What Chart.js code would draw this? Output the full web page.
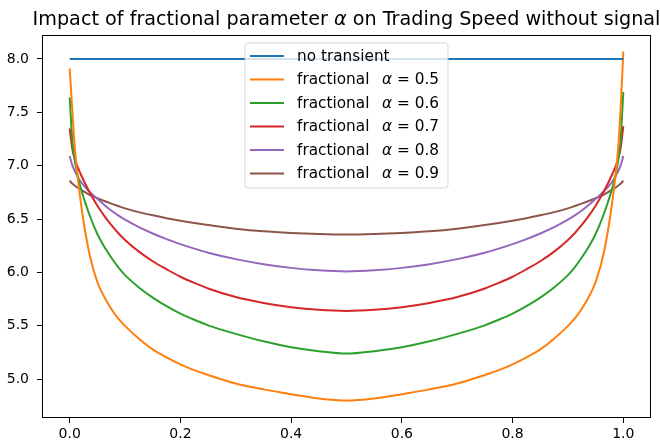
<!DOCTYPE html>
<html>
<head>
<meta charset="utf-8">
<script src="https://cdn.jsdelivr.net/npm/chart.js@4/dist/chart.umd.min.js"></script>
<style>
html,body{margin:0;padding:0;background:#fff;}
canvas{display:block;}
</style>
</head>
<body>
<canvas id="c" width="660" height="447"></canvas>
<script>
// ---- data ----
const titleText = "Impact of fractional parameter \u03b1 on Trading Speed without signal";
const tValues = [0, 0.005, 0.01, 0.02, 0.035, 0.05, 0.0625, 0.075, 0.0875, 0.1, 0.125, 0.15, 0.175, 0.2, 0.225, 0.25,
                 0.3, 0.35, 0.4, 0.45, 0.5, 0.55, 0.6, 0.65, 0.7, 0.75, 0.775, 0.8, 0.825, 0.85, 0.875, 0.9,
                 0.9125, 0.925, 0.9375, 0.95, 0.965, 0.98, 0.99, 0.995, 1.0];
const noTransientT = [0, 1];
const noTransientV = [8.0, 8.0];
const alpha05 = [7.91, 7.50, 7.12, 6.66, 6.19, 5.91, 5.77, 5.66, 5.57, 5.50, 5.38, 5.28, 5.205, 5.14, 5.085, 5.04,
                 4.96, 4.905, 4.86, 4.82, 4.80,
                 4.82, 4.86, 4.905, 4.96, 5.04, 5.085, 5.14, 5.205, 5.28, 5.38, 5.50, 5.57, 5.66, 5.77, 5.91,
                 6.19, 6.66, 7.12, 7.52, 8.07];
const alpha06 = [7.64, 7.22, 7.02, 6.79, 6.55, 6.36, 6.24, 6.14, 6.05, 5.975, 5.86, 5.765, 5.685, 5.615, 5.557, 5.505,
                 5.425, 5.355, 5.30, 5.263, 5.24,
                 5.263, 5.30, 5.355, 5.425, 5.505, 5.557, 5.615, 5.685, 5.765, 5.86, 5.975, 6.05, 6.14, 6.24, 6.36,
                 6.55, 6.79, 7.02, 7.24, 7.69];
const alpha07 = [7.35, 7.15, 7.05, 6.92, 6.76, 6.625, 6.53, 6.445, 6.37, 6.305, 6.195, 6.105, 6.03, 5.96, 5.902, 5.85,
                 5.77, 5.715, 5.675, 5.65, 5.64,
                 5.65, 5.675, 5.715, 5.77, 5.85, 5.902, 5.96, 6.03, 6.105, 6.195, 6.305, 6.37, 6.445, 6.53, 6.625,
                 6.76, 6.92, 7.05, 7.16, 7.37];
const alpha08 = [7.09, 7.00, 6.94, 6.85, 6.76, 6.69, 6.632, 6.58, 6.535, 6.495, 6.425, 6.365, 6.312, 6.265, 6.223, 6.185,
                 6.125, 6.078, 6.043, 6.02, 6.01,
                 6.02, 6.043, 6.078, 6.125, 6.185, 6.223, 6.265, 6.312, 6.365, 6.425, 6.495, 6.535, 6.58, 6.632, 6.69,
                 6.76, 6.85, 6.94, 7.00, 7.09];
const alpha09 = [6.86, 6.83, 6.81, 6.775, 6.73, 6.695, 6.669, 6.645, 6.622, 6.60, 6.565, 6.535, 6.508, 6.485, 6.464, 6.445,
                 6.41, 6.385, 6.37, 6.36, 6.355,
                 6.36, 6.37, 6.385, 6.41, 6.445, 6.464, 6.485, 6.508, 6.535, 6.565, 6.60, 6.622, 6.645, 6.669, 6.695,
                 6.73, 6.775, 6.81, 6.83, 6.86];
const seriesLabels = ["no transient", "fractional  \u03b1 = 0.5", "fractional  \u03b1 = 0.6",
                      "fractional  \u03b1 = 0.7", "fractional  \u03b1 = 0.8", "fractional  \u03b1 = 0.9"];
const xTicks = [0.0, 0.2, 0.4, 0.6, 0.8, 1.0];
const yTicks = [5.0, 5.5, 6.0, 6.5, 7.0, 7.5, 8.0];
const colors = ["#1f77b4", "#ff7f0e", "#2ca02c", "#d62728", "#9467bd", "#8c564b"];

const FONT = "DejaVu Sans";
const TICK_PX = 14;
const LEGEND_PX = 15.3;
const TITLE_PX = 19.2;

function pts(xs, ys) { return xs.map((x, i) => ({x: x, y: ys[i]})); }

const seriesData = [pts(noTransientT, noTransientV), pts(tValues, alpha05), pts(tValues, alpha06),
                    pts(tValues, alpha07), pts(tValues, alpha08), pts(tValues, alpha09)];

// draw a label, rendering the Greek alpha in italic like matplotlib mathtext
function drawRich(ctx, text, x, y, px, preGap) {
  const parts = text.split("\u03b1");
  let cx = x;
  parts.forEach((p, i) => {
    ctx.font = px + "px '" + FONT + "'";
    ctx.fillText(p, cx, y);
    cx += ctx.measureText(p).width;
    if (i < parts.length - 1) {
      cx += preGap;
      ctx.font = "italic " + px + "px '" + FONT + "'";
      ctx.fillText("\u03b1", cx, y);
      cx += ctx.measureText("\u03b1").width;
    }
  });
  return cx - x;
}
function measureRich(ctx, text, px, preGap) {
  const parts = text.split("\u03b1");
  let w = 0;
  parts.forEach((p, i) => {
    ctx.font = px + "px '" + FONT + "'";
    w += ctx.measureText(p).width;
    if (i < parts.length - 1) {
      w += preGap;
      ctx.font = "italic " + px + "px '" + FONT + "'";
      w += ctx.measureText("\u03b1").width;
    }
  });
  return w;
}

const decor = {
  id: 'decor',
  afterDatasetsDraw(chart) {
    const ctx = chart.ctx, a = chart.chartArea;
    ctx.save();
    // spines
    ctx.strokeStyle = '#000';
    ctx.lineWidth = 1;
    ctx.strokeRect(Math.round(a.left) + 0.5, Math.round(a.top) + 0.5,
                   Math.round(a.right - a.left) - 1, Math.round(a.bottom - a.top) - 1);
    // title (centred over the axes)
    ctx.fillStyle = '#000';
    ctx.textBaseline = 'alphabetic';
    const tw = measureRich(ctx, titleText, TITLE_PX, 0);
    drawRich(ctx, titleText, (a.left + a.right) / 2 - tw / 2, 25, TITLE_PX, 0);
    // legend
    const bx = 245, by = 43, bw = 203, bh = 145, r = 3;
    ctx.beginPath();
    ctx.moveTo(bx + r, by);
    ctx.lineTo(bx + bw - r, by); ctx.quadraticCurveTo(bx + bw, by, bx + bw, by + r);
    ctx.lineTo(bx + bw, by + bh - r); ctx.quadraticCurveTo(bx + bw, by + bh, bx + bw - r, by + bh);
    ctx.lineTo(bx + r, by + bh); ctx.quadraticCurveTo(bx, by + bh, bx, by + bh - r);
    ctx.lineTo(bx, by + r); ctx.quadraticCurveTo(bx, by, bx + r, by);
    ctx.closePath();
    ctx.fillStyle = 'rgba(255,255,255,0.8)';
    ctx.fill();
    ctx.strokeStyle = 'rgba(204,204,204,0.8)';
    ctx.lineWidth = 1;
    ctx.stroke();
    chart.data.datasets.forEach((ds, i) => {
      const y = 56 + i * 23.5;
      ctx.strokeStyle = ds.borderColor;
      ctx.lineWidth = 2;
      ctx.beginPath();
      ctx.moveTo(250, y); ctx.lineTo(284, y);
      ctx.stroke();
      ctx.fillStyle = '#000';
      ctx.textBaseline = 'middle';
      drawRich(ctx, ds.label, 297, y + 1, LEGEND_PX, 3);
    });
    ctx.restore();
  }
};

new Chart(document.getElementById('c'), {
  type: 'line',
  data: {
    datasets: seriesData.map((d, i) => ({
      label: seriesLabels[i],
      data: d,
      borderColor: colors[i],
      backgroundColor: colors[i],
      borderWidth: 2,
      pointRadius: 0,
      fill: false,
      cubicInterpolationMode: 'monotone'
    }))
  },
  options: {
    responsive: false,
    animation: false,
    devicePixelRatio: 1,
    layout: {padding: {top: 35, right: 9, left: 0, bottom: 0}},
    plugins: {
      legend: {display: false},
      title: {display: false, text: titleText},
      tooltip: {enabled: false}
    },
    scales: {
      x: {
        type: 'linear', min: -0.05, max: 1.05,
        afterBuildTicks: s => { s.ticks = xTicks.map(v => ({value: v})); },
        afterFit: s => { s.height = 29; },
        ticks: {callback: v => Number(v).toFixed(1), color: '#000', padding: 3,
                font: {family: FONT, size: TICK_PX}, maxRotation: 0, autoSkip: false},
        grid: {display: true, drawOnChartArea: false, drawTicks: true, tickLength: 5, color: '#000', tickWidth: 1},
        border: {display: false}
      },
      y: {
        type: 'linear', min: 4.637, max: 8.224,
        afterBuildTicks: s => { s.ticks = yTicks.map(v => ({value: v})); },
        afterFit: s => { s.width = 42; },
        ticks: {callback: v => Number(v).toFixed(1), color: '#000', padding: 8,
                font: {family: FONT, size: TICK_PX}, autoSkip: false},
        grid: {display: true, drawOnChartArea: false, drawTicks: true, tickLength: 5, color: '#000', tickWidth: 1},
        border: {display: false}
      }
    }
  },
  plugins: [decor]
});
</script>
</body>
</html>
